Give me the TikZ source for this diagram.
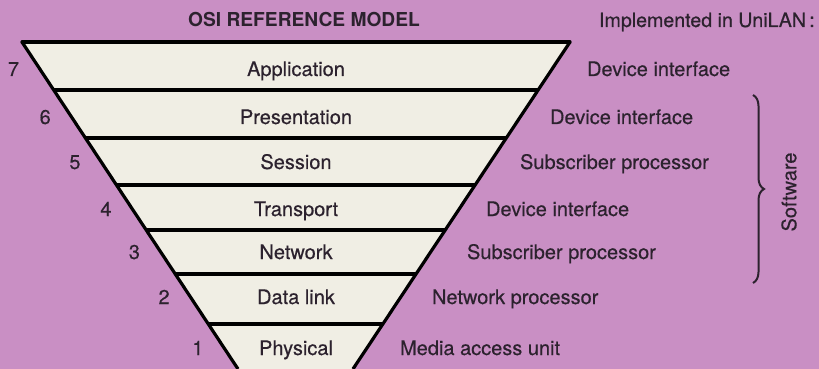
\documentclass[tikz,border=0pt]{standalone}
\usepackage{fontspec}
\setmainfont{TeX Gyre Heros}
\newfontfamily\medfont{TeX Gyre Heros}[FakeBold=0.4]
\usetikzlibrary{decorations.pathreplacing}
\definecolor{mauve}{RGB}{201,143,196}
\definecolor{paper}{RGB}{240,238,228}
\definecolor{ink}{RGB}{44,34,46}

\begin{document}
\begin{tikzpicture}[x=0.5pt,y=-0.5pt,
			edge/.style={line width=1.6pt,line join=round},
			layer/.style={font=\medfont\fontsize{10}{12}\selectfont,text=ink,anchor=base},
			num/.style={font=\medfont\fontsize{10}{12}\selectfont,text=ink,anchor=base},
			impl/.style={font=\medfont\fontsize{10}{12}\selectfont,text=ink,anchor=base west},
			head/.style={font=\fontsize{9.6}{12}\selectfont,text=ink,anchor=base west}]
			
			% Background
			\fill[mauve] (0,0) rectangle (819,369);
			\useasboundingbox (0,0) rectangle (819,369);
			
			% The funnel (corners of the trapezoid)
			\coordinate (tl) at (22,42);
			\coordinate (tr) at (570,42);
			\coordinate (bl) at (238,369);
			\coordinate (br) at (353,369);
			\fill[paper] (tl) -- (tr) -- (br) -- (bl) -- cycle;
			\begin{scope}
				\clip (tl) -- (tr) -- (br) -- (bl) -- cycle;
				\foreach \y in {42,90,138,185,230,274,324} {
					\draw[edge] (0,\y) -- (819,\y);
				}
			\end{scope}
			\draw[edge] (tl) -- (bl);
			\draw[edge] (tr) -- (br);
			\draw[edge,line cap=round] (tl) -- (tr);
			
			% Layers, numbers and what implements them
			\foreach \i/\name/\y/\what/\wx in {
				7/Application/76/Device interface/580,
				6/Presentation/124/Device interface/543,
				5/Session/169/Subscriber processor/513,
				4/Transport/216/Device interface/479,
				3/Network/259/Subscriber processor/460,
				2/Data link/304/Network processor/425,
				1/Physical/355/Media access unit/393} {
				\node[layer] (l\i) at (296,\y) {\name};
				\node[num] (n\i) at ({22+0.6606*(\y-48)-27},\y) {\i};
				\node[impl] (u\i) at (\wx,\y) {\what};
			}
			
			% Headings
			\node[head,anchor=base] (title) at (304,27) {\textbf{OSI REFERENCE MODEL}};
			\node[head,font=\medfont\fontsize{9.8}{12}\selectfont] (impl) at (592,27) {Implemented in UniLAN\,:};
			
			% Brace for the software layers
			\coordinate (sw-top) at (753,95);
			\coordinate (sw-bot) at (753,283);
			\draw[ink,line width=1pt,decorate,
			decoration={brace,amplitude=5.5pt}]
			(sw-top) -- (sw-bot);
			\node[font=\medfont\fontsize{10}{12}\selectfont,text=ink,rotate=90] (sw) at (789,192) {Software};
			
		\end{tikzpicture}
\end{document}
